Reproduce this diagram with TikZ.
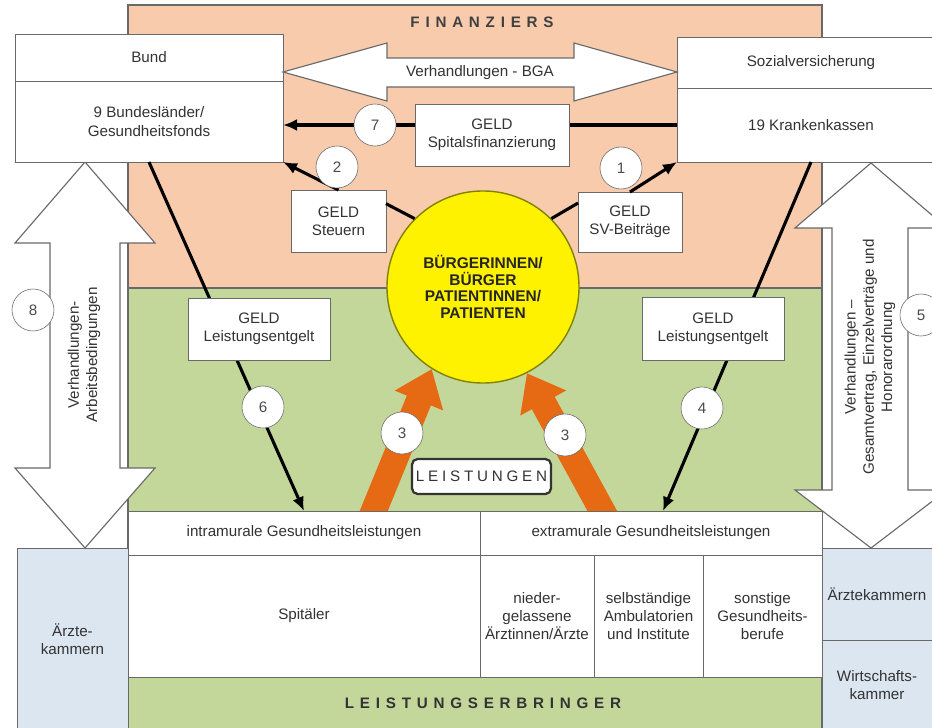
\documentclass[tikz,border=0pt]{standalone}
\usepackage{fontspec}
\setmainfont{Liberation Sans}
\newfontfamily\spaced[LetterSpace=38]{Liberation Sans}
\newfontfamily\spacedthin[LetterSpace=25]{Liberation Sans}
\usetikzlibrary{arrows,arrows.meta}
\definecolor{peach}{RGB}{248,203,173}
\definecolor{olivegreen}{RGB}{196,215,155}
\definecolor{paleblue}{RGB}{220,230,241}
\definecolor{leistorange}{RGB}{230,105,20}
\definecolor{rim}{RGB}{105,105,105}
\definecolor{olive}{RGB}{130,130,0}
\tikzset{box/.style={rectangle,draw=rim,fill=white,inner sep=1pt,outer sep=0pt,align=center,text=black!80},
  num/.style={circle,draw=rim,fill=white,minimum size=1.05cm,inner sep=0pt,text=black!70},
  arrowout/.style={->,>={Latex[length=3.5mm 0 0,width=3mm 0 0]},line width=2.2pt},
  plainline/.style={-,line width=2.2pt},
  bigarrow/.style={draw=rim,fill=white,line width=0.8pt},
  region/.style={draw=rim,line width=0.8pt},
  flow/.style={line width=0.65cm,draw=leistorange,-{Triangle[length=0.85cm 0 0,width=1.25cm 0 0]}}}

\begin{document}
\begin{tikzpicture}[x=0.025cm,y=-0.025cm,font=\fontsize{10.8}{13}\selectfont]
\useasboundingbox (0,0) rectangle (932,728);
\clip (0,0) rectangle (932,728);

%regions
\draw[region,fill=peach] (128,5) rectangle (822,288);
\draw[region,fill=olivegreen] (128,288) rectangle (822,740);
\node (fin) at (482,22)[text=black!75]{\spaced\bfseries FINANZIERS};
\node (erb) at (483,703)[text=black!80]{\spaced\bfseries LEISTUNGSERBRINGER};

%kammern
\node (kammerl) at (72.5,639)[box,fill=paleblue,minimum width=2.775cm,minimum height=4.55cm]{Ärzte-\\kammern};
\node (kammerr) at (877,594)[box,fill=paleblue,minimum width=2.75cm,minimum height=2.3cm]{Ärztekammern};
\node (wirtschaft) at (877,685)[box,fill=paleblue,minimum width=2.75cm,minimum height=2.25cm]{Wirtschafts-\\kammer};

%negotiations left and right
\draw[bigarrow] (85,162) -- (155,243) -- (120,243) -- (120,468) -- (155,468) -- (85,548)
  -- (15,468) -- (50,468) -- (50,243) -- (15,243) -- cycle;
\node (n8) at (33,310)[num]{8};
\node (arbeit) at (84,355)[rotate=90,align=center,text=black!80]{Verhandlungen-\\Arbeitsbedingungen};
\draw[bigarrow] (871,163) -- (947,228) -- (908,228) -- (908,490) -- (947,490) -- (871,548)
  -- (795,490) -- (832,490) -- (832,228) -- (795,228) -- cycle;
\node (n5) at (921,315)[num]{5};
\node (vertrag) at (870,357)[rotate=90,align=center,text=black!80]{Verhandlungen --\\Gesamtvertrag, Einzelverträge und\\Honorarordnung};

%financiers
\node (bund) at (149,57.5)[box,minimum width=6.7cm,minimum height=1.175cm]{Bund};
\node (bundland) at (149,121.5)[box,minimum width=6.7cm,minimum height=2.025cm]{9 Bundesländer/\\Gesundheitsfonds};
\node (sozial) at (811,62.5)[box,minimum width=6.7cm,minimum height=1.275cm]{Sozialversicherung};
\node (kassen) at (811,125)[box,minimum width=6.7cm,minimum height=1.85cm]{19 Krankenkassen};
\draw[bigarrow] (283,72) -- (387,43) -- (387,58) -- (574,58) -- (574,43) -- (677,72)
  -- (574,101) -- (574,87) -- (387,87) -- (387,101) -- cycle;
\node (bga) at (480,73)[text=black!80]{Verhandlungen - BGA};

%citizens
\node (citizen) at (483,287)[circle,draw=olive,fill=yellow,line width=1pt,minimum size=4.8cm,align=center,
  font=\fontsize{11}{11.8}\selectfont\bfseries,text=black!85]{BÜRGERINNEN/\\BÜRGER\\PATIENTINNEN/\\PATIENTEN};

%services
\coordinate (lt) at (368,525);
\coordinate (rt) at (610,525);
\draw[flow] (lt) -- (citizen.238);
\draw[flow] (rt) -- (citizen.297);
\node (n3a) at (402,433)[num]{3};
\node (n3b) at (565,435)[num]{3};

%providers
\node (intra) at (304,533)[box,minimum width=8.8cm,minimum height=1.1cm]{intramurale Gesundheitsleistungen};
\node (extra) at (651,533)[box,minimum width=8.55cm,minimum height=1.1cm]{extramurale Gesundheitsleistungen};
\node (spitaeler) at (304,616)[box,minimum width=8.8cm,minimum height=3.05cm]{Spitäler};
\node (nieder) at (537,616)[box,minimum width=2.85cm,minimum height=3.05cm]{nieder-\\gelassene\\Ärztinnen/Ärzte};
\node (ambul) at (648.5,616)[box,minimum width=2.725cm,minimum height=3.05cm]{selbständige\\Ambulatorien\\und Institute};
\node (sonst) at (762.5,616)[box,minimum width=2.975cm,minimum height=3.05cm]{sonstige\\Gesundheits-\\berufe};

%money
\draw[arrowout] (bundland.south) -- (intra.north);
\draw[arrowout] (kassen.south) -- ([xshift=0.3cm]extra.north);
\draw[arrowout] (kassen.west) -- (kassen.west -| bundland.east);
\node (spital) at (492,135)[box,minimum width=3.85cm,minimum height=1.55cm]{GELD\\Spitalsfinanzierung};
\node (entgeltl) at (259,329)[box,minimum width=3.55cm,minimum height=1.55cm]{GELD\\Leistungsentgelt};
\node (entgeltr) at (713,328.5)[box,minimum width=3.55cm,minimum height=1.575cm]{GELD\\Leistungsentgelt};
\node (n7) at (375,125)[num]{7};
\node (n6) at (263,407)[num]{6};
\node (n4) at (702,408)[num]{4};

\node (steuern) at (338.5,221)[box,minimum width=2.375cm,minimum height=1.55cm]{GELD\\Steuern};
\node (beitrag) at (630,222)[box,minimum width=2.6cm,minimum height=1.5cm]{GELD\\SV-Beiträge};
\draw[arrowout] (steuern.north) -- (bundland.south east);
\draw[arrowout] (beitrag.north) -- (kassen.south west);
\draw[plainline] (citizen.135) -- (steuern.20);
\draw[plainline] (citizen.45) -- (beitrag.160);
\node (n2) at (337,167)[num]{2};
\node (n1) at (621,168)[num]{1};

\node (leist) at (481.5,476.5)[box,rounded corners=4pt,draw=black!80,line width=1.6pt,
  minimum width=3.475cm,minimum height=0.875cm]{\spacedthin LEISTUNGEN};
\end{tikzpicture}
\end{document}
